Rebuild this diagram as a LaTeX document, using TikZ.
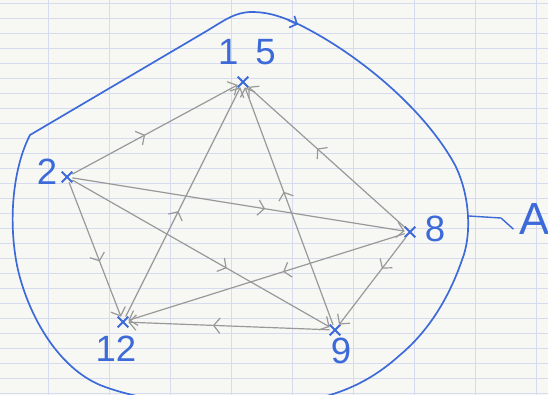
\documentclass[tikz,border=0pt]{standalone}
\usepackage{fontspec}
\setmainfont{Liberation Sans}
\usetikzlibrary{arrows.meta,shapes.misc,decorations.markings}
\definecolor{penblue}{HTML}{3C6AD8}
\definecolor{pencil}{HTML}{999999}
\definecolor{paper}{HTML}{F7F7F3}
\definecolor{ruling}{HTML}{D6DBF0}

\begin{document}
\begin{tikzpicture}[
  x=0.025cm, y=-0.025cm,
  vertex/.style={cross out, draw=penblue, line width=1.3pt, minimum size=0.22cm, inner sep=0pt},
  tag/.style={text=penblue, font=\fontsize{26}{28}\selectfont, inner sep=0pt},
  link/.style={draw=pencil, line width=0.85pt, -{Straight Barb[length=5pt,width=11pt]}},
  midarrow/.style={postaction={decorate, decoration={markings, mark=at position #1 with {\arrow{Straight Barb[length=4.5pt,width=11pt]}}}}},
  region/.style={draw=penblue, line width=1.2pt}
]
\clip (0,0) rectangle (548,395);
% paper
\fill[paper] (0,0) rectangle (548,395);
\foreach \y in {3,18,...,393} \draw[ruling, line width=0.4pt] (0,\y) -- (548,\y);
\foreach \x in {48,109,...,548} \draw[ruling, line width=0.5pt] (\x,0) -- (\x,395);

% the set A
\draw[region] (30,135) -- (205,32)
  .. controls (225,20) and (235,12) .. (252,12)
  .. controls (270,12) and (285,18) .. (300,25)
  .. controls (360,55) and (425,110) .. (455,165)
  .. controls (470,195) and (472,235) .. (462,260)
  .. controls (450,295) and (430,330) .. (400,355)
  .. controls (370,382) and (340,395) .. (300,402)
  .. controls (240,412) and (150,405) .. (100,385)
  .. controls (60,368) and (30,320) .. (18,270)
  .. controls (8,225) and (12,170) .. (30,135) -- cycle;
\draw[region, -{Straight Barb[length=4pt,width=9pt]}] (288,20) -- (298,24.5);
\coordinate (tick) at (469,216);
\node[tag, font=\fontsize{32}{34}\selectfont] (A) at (535,219) {A};
\draw[region, line width=1pt, shorten >=6pt] (tick) -- ++(32,2) -- (A.south west);

% points
\node[vertex] (n15) at (243,82) {};
\node[vertex] (n2) at (67,177) {};
\node[vertex] (n8) at (410,232) {};
\node[vertex] (n12) at (123,322) {};
\node[vertex] (n9) at (335,330) {};

\node[tag] (t15) at (247,52) {1\hspace{12pt}5};
\node[tag] (t2) at (47,172) {2};
\node[tag] (t8) at (435,229) {8};
\node[tag] (t12) at (116,349) {12};
\node[tag] (t9) at (341,351) {9};

% arrows
\draw[link, midarrow=0.44] (n2) -- (n15);
\draw[link, midarrow=0.58] (n2) -- (n8);
\draw[link, midarrow=0.6] (n2) -- (n9);
\draw[link, midarrow=0.59] (n2) -- (n12);
\draw[link, midarrow=0.56] (n8) -- (n15);
\draw[link, midarrow=0.44] (n8) -- (n12);
\draw[link, midarrow=0.36] (n8) -- (n9);
\draw[link, midarrow=0.58] (n9) -- (n12);
\draw[link, midarrow=0.56] (n9) -- (n15);
\draw[link, midarrow=0.46] (n12) -- (n15);
\end{tikzpicture}
\end{document}
